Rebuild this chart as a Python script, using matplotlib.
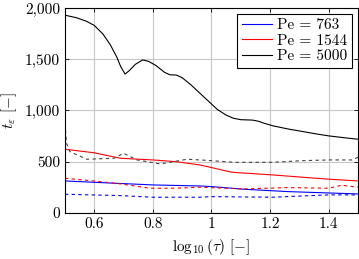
import matplotlib
matplotlib.use("Agg")
import matplotlib.pyplot as plt
from matplotlib.ticker import FuncFormatter

plt.rcParams['font.family'] = ['cmr10', 'DejaVu Serif']
plt.rcParams['mathtext.fontset'] = 'cm'
plt.rcParams['axes.unicode_minus'] = False
plt.rcParams['font.size'] = 11

# Pe = 5000
x_k = [0.5, 0.54, 0.574, 0.6, 0.63, 0.655, 0.677, 0.69, 0.705, 0.72, 0.74, 0.765,
       0.785, 0.81, 0.84, 0.858, 0.88, 0.9, 0.93, 0.96, 0.99, 1.02, 1.05, 1.075,
       1.1, 1.14, 1.16, 1.18, 1.21, 1.26, 1.31, 1.36, 1.4, 1.45, 1.5]
y_k = [1930, 1905, 1870, 1830, 1745, 1640, 1520, 1430, 1355, 1390, 1450, 1493,
       1480, 1440, 1372, 1348, 1346, 1320, 1250, 1170, 1090, 1010, 955, 924,
       910, 906, 895, 875, 850, 820, 795, 770, 752, 735, 719]
xd_k = [0.5, 0.505, 0.517, 0.574, 0.667, 0.7, 0.746, 0.826, 0.917, 0.96, 1.0, 1.078,
        1.207, 1.31, 1.4, 1.48, 1.5]
yd_k = [875, 680, 598, 524, 533, 582, 517, 478, 524, 517, 510, 494, 494, 510, 517, 517, 543]

# Pe = 1544
x_r = [0.5, 0.597, 0.69, 0.8, 0.88, 0.96, 0.995, 1.069, 1.207, 1.4, 1.5]
y_r = [621, 588, 533, 517, 500, 468, 446, 397, 371, 329, 312]
xd_r = [0.5, 0.597, 0.69, 0.79, 0.88, 0.96, 1.11, 1.26, 1.4, 1.445, 1.5]
yd_r = [338, 312, 283, 241, 241, 251, 234, 247, 241, 270, 251]

# Pe = 763
x_b = [0.5, 0.597, 0.8, 0.96, 1.0, 1.11, 1.26, 1.5]
y_b = [312, 299, 273, 263, 257, 231, 208, 185]
xd_b = [0.5, 0.69, 0.8, 0.96, 1.0, 1.207, 1.4, 1.5]
yd_b = [182, 169, 153, 153, 159, 153, 176, 176]

fig = plt.figure(figsize=(3.59, 2.59), dpi=100)
ax = fig.add_axes([0.181, 0.178, 0.816, 0.791])

lw = 0.8
ax.plot(x_b, y_b, color='blue', lw=lw, label='Pe = 763')
ax.plot(x_r, y_r, color='red', lw=lw, label='Pe = 1544')
ax.plot(x_k, y_k, color='black', lw=lw, label='Pe = 5000')
ax.plot(xd_b, yd_b, color='blue', lw=lw, ls=(0, (3, 3)))
ax.plot(xd_r, yd_r, color='red', lw=lw, ls=(0, (3, 3)))
ax.plot(xd_k, yd_k, color='#444444', lw=lw, ls=(0, (3, 3)))

ax.set_xlim(0.5, 1.5)
ax.set_ylim(0, 2000)
ax.set_xticks([0.6, 0.8, 1.0, 1.2, 1.4])
ax.set_xticklabels(['0.6', '0.8', '1', '1.2', '1.4'])
ax.set_yticks([0, 500, 1000, 1500, 2000])
ax.yaxis.set_major_formatter(FuncFormatter(lambda v, p: f'{int(v):,}'))
ax.grid(True, color='#c8c8c8', lw=0.8)
ax.set_axisbelow(True)
ax.tick_params(direction='in', top=True, right=True, length=3, width=0.6)
for s in ax.spines.values():
    s.set_linewidth(0.8)

ax.set_xlabel(r'$\log_{10}(\tau)$ [$-$]')
ax.set_ylabel(r'$t_\varepsilon$ [$-$]', labelpad=4)

leg = ax.legend(loc='upper right', fancybox=False, framealpha=1, edgecolor='black',
                handlelength=2.0, borderaxespad=0.4, labelspacing=0.1, handletextpad=0.3,
                borderpad=0.3)
leg.get_frame().set_linewidth(0.8)

plt.savefig('out.png', dpi=100)
